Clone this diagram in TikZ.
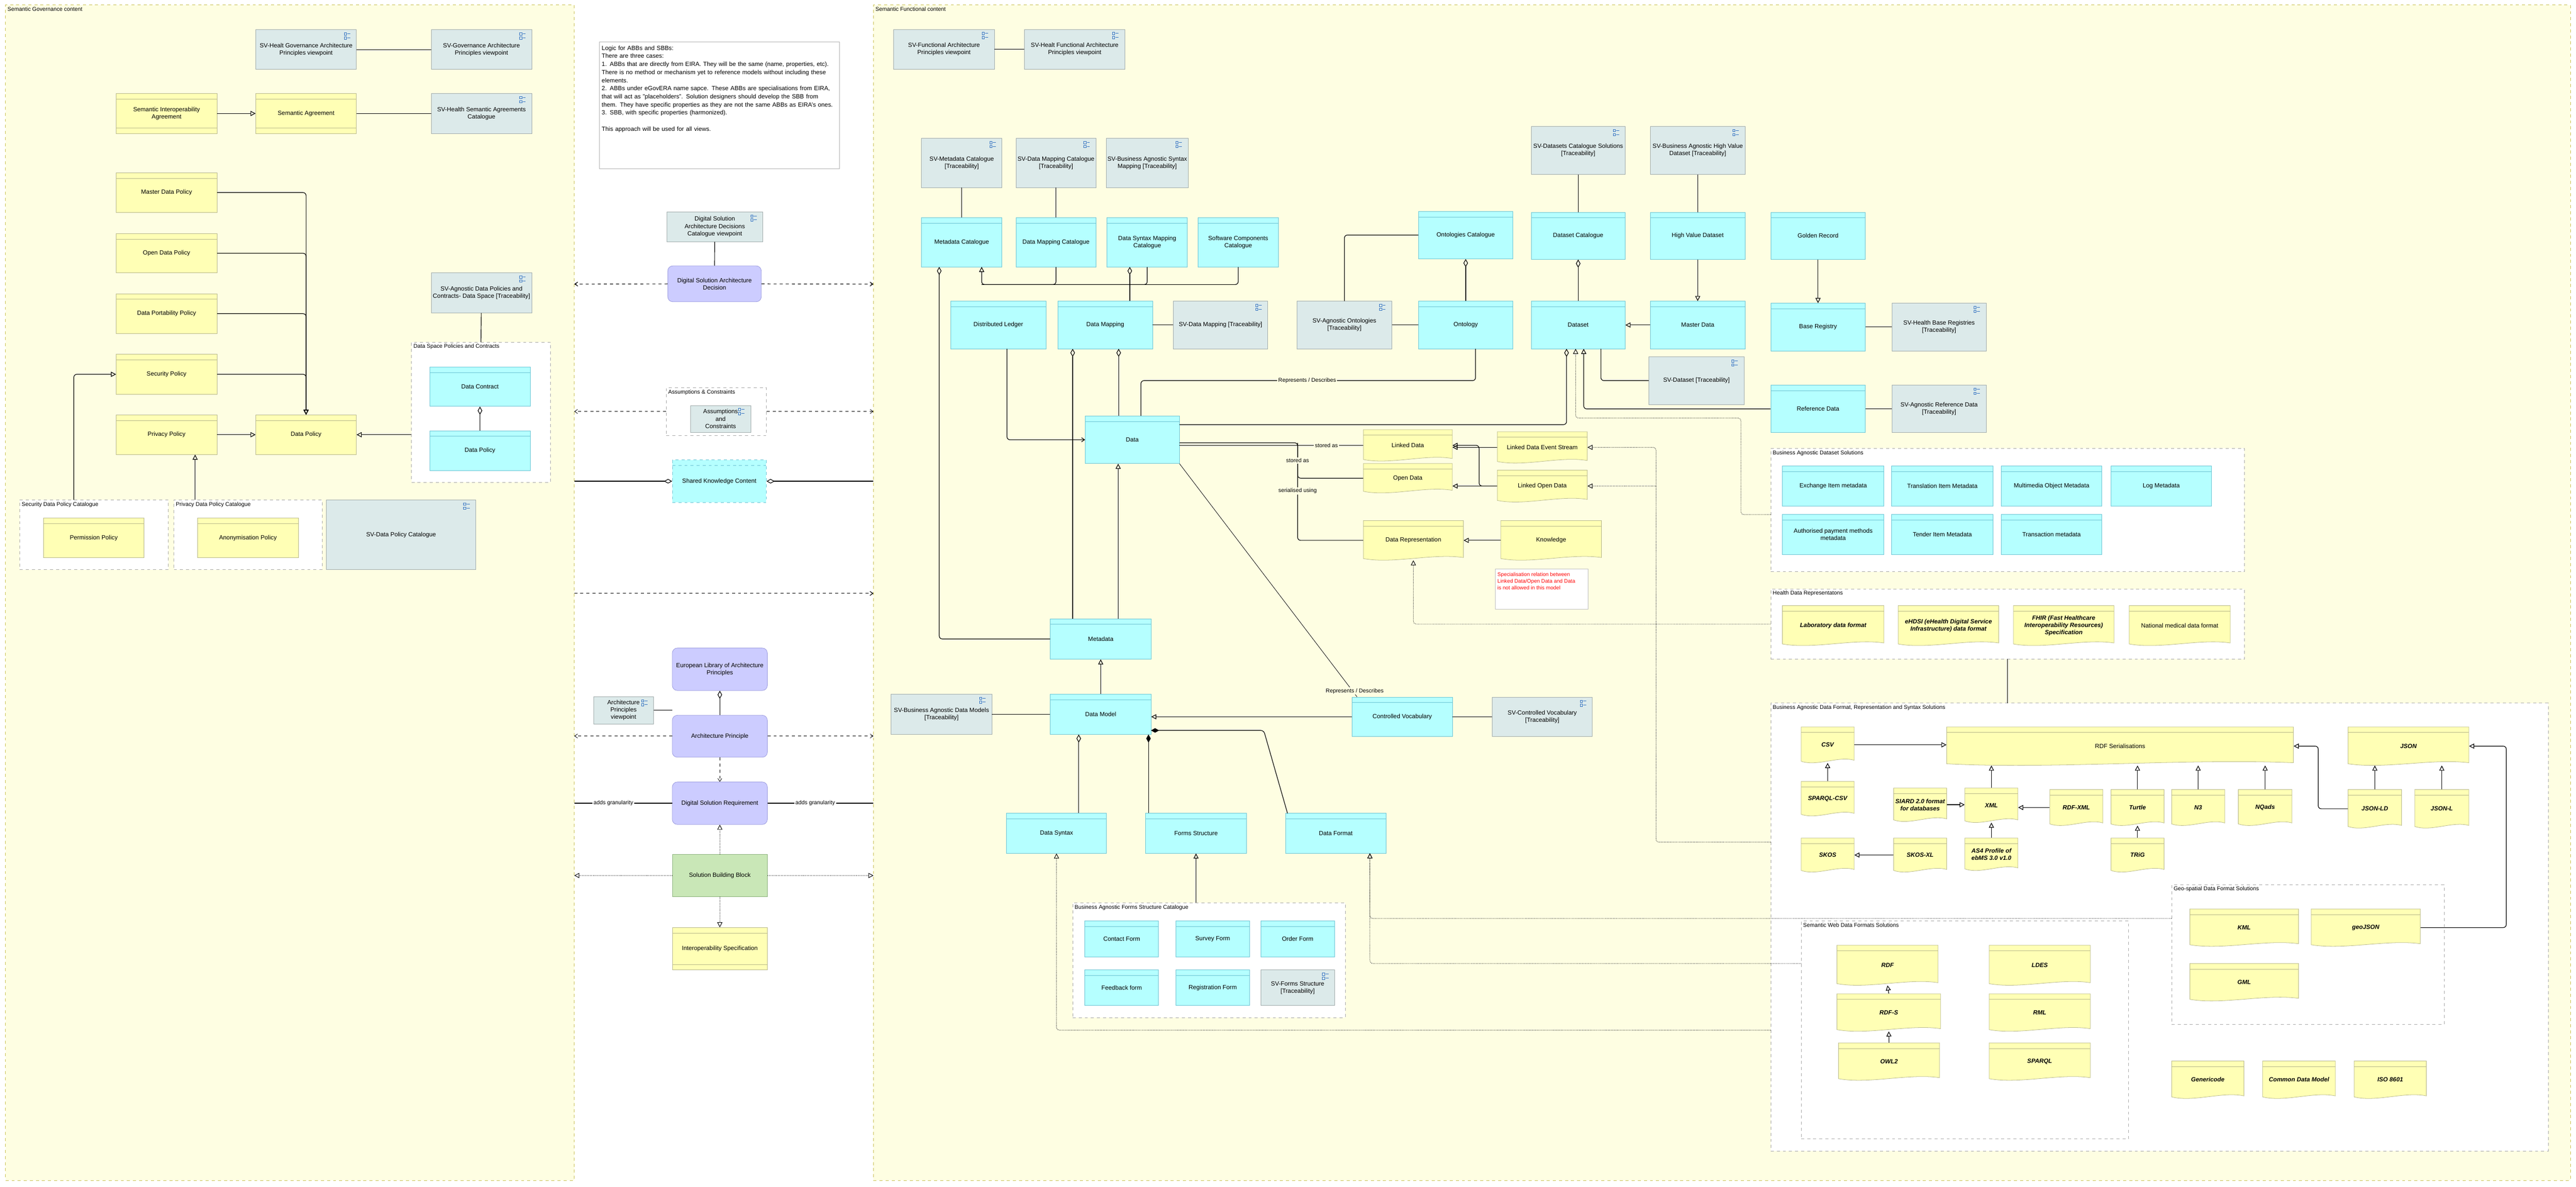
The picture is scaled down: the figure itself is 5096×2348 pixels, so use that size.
\documentclass[tikz,border=0pt]{standalone}
\usepackage{fontspec}
\setmainfont{Liberation Sans}
\usetikzlibrary{arrows.meta,calc,positioning}

\definecolor{conty}{HTML}{FEFEE2}
\definecolor{contd}{HTML}{C8C050}
\definecolor{appc}{HTML}{B5FFFF}
\definecolor{appd}{HTML}{6CC4D4}
\definecolor{bizc}{HTML}{FFFFB5}
\definecolor{bizd}{HTML}{B8B88A}
\definecolor{svc}{HTML}{DCEAEA}
\definecolor{svd}{HTML}{A0AAAA}
\definecolor{purc}{HTML}{CCCCFF}
\definecolor{purd}{HTML}{9999DD}
\definecolor{grnc}{HTML}{C9E7B7}
\definecolor{grnd}{HTML}{8AB07A}
\definecolor{icon}{HTML}{3070C0}

\tikzset{
  el/.style={inner sep=1pt, align=center, font=\fontsize{6}{7.2}\selectfont},
  sv/.style={el, draw=svd, fill=svc, path picture={
      \draw[icon,line width=0.4pt] ([xshift=-12pt,yshift=-3pt]path picture bounding box.north east) rectangle +(2.2pt,-2.2pt)
        ([xshift=-12pt,yshift=-7pt]path picture bounding box.north east) rectangle +(2.2pt,-2.2pt)
        ([xshift=-9pt,yshift=-4pt]path picture bounding box.north east) -- +(3pt,0)
        ([xshift=-9pt,yshift=-8pt]path picture bounding box.north east) -- +(3pt,0);}},
  app/.style={el, draw=appd, fill=appc, path picture={
      \draw[appd] ([yshift=-5.5pt]path picture bounding box.north west) -- ([yshift=-5.5pt]path picture bounding box.north east);}},
  biz/.style={el, draw=bizd, fill=bizc, path picture={
      \draw[bizd] ([yshift=-5.5pt]path picture bounding box.north west) -- ([yshift=-5.5pt]path picture bounding box.north east);}},
  ctr/.style={el, draw=bizd, fill=bizc, path picture={
      \draw[bizd] ([yshift=-5.5pt]path picture bounding box.north west) -- ([yshift=-5.5pt]path picture bounding box.north east)
        ([yshift=5.5pt]path picture bounding box.south west) -- ([yshift=5.5pt]path picture bounding box.south east);}},
  pur/.style={el, draw=purd, fill=purc, rounded corners=5pt},
  grn/.style={el, draw=grnd, fill=grnc},
  grp/.style={draw=gray!70, dashed, fill=white, inner sep=0pt},
  cont/.style={draw=contd, dashed, fill=conty, inner sep=0pt},
  gtitle/.style={inner sep=2pt, font=\fontsize{5.5}{6.6}\selectfont},
  rep/.style={el},
  repb/.style={el, font=\fontsize{6}{7.2}\selectfont\bfseries\itshape},
  repshape/.style={draw=bizd, fill=bizc},
  rel/.style={line width=0.6pt},
  spec/.style={rel, -{Triangle[open,length=5pt,width=5pt]}},
  agg/.style={rel, {Diamond[open,length=8pt,width=4.5pt]}-},
  comp/.style={rel, {Diamond[length=8pt,width=4.5pt]}-},
  realz/.style={line width=0.5pt, densely dotted, -{Triangle[open,length=5pt,width=5pt]}},
  infl/.style={rel, dashed, -{Straight Barb[length=3pt,width=4pt]}},
  flow/.style={rel, -{Straight Barb[length=3pt,width=4pt]}},
  lbl/.style={inner sep=1pt, font=\fontsize{5.5}{6.6}\selectfont},
}

% box from pixel corners
\newcommand\bx[7]{\node[#1, minimum width={(#5-#3)*0.5pt}, minimum height={(#6-#4)*0.5pt}] (#2) at ({(#3+#5)/2},{(#4+#6)/2}) {#7};}
% representation with wavy bottom
\newcommand\rp[7]{%
  \filldraw[repshape] (#3,#4) -- (#5,#4) -- (#5,#6-5) .. controls ({#3+0.7*(#5-#3)},#6-14) and ({#3+0.3*(#5-#3)},#6+8) .. (#3,#6-3) -- cycle;
  \draw[bizd] (#3,#4+11) -- (#5,#4+11);
  \bx{#1,draw=none,fill=none}{#2}{#3}{#4}{#5}{#6}{#7}}
% group with title
\newcommand\grp[7]{\bx{#1}{#2}{#3}{#4}{#5}{#6}{}
  \node[gtitle, anchor=north west] (#2t) at (#2.north west) {#7};}

\begin{document}
\begin{tikzpicture}[x=0.5pt,y=-0.5pt]
\useasboundingbox[fill=white] (0,0) rectangle (5096,2348);

% containers
\grp{cont}{govC}{11}{10}{1136}{2335}{Semantic Governance content}
\grp{cont}{funC}{1728}{10}{5085}{2335}{Semantic Functional content}

% Governance content
\bx{sv}{hgov}{506}{59}{705}{137}{SV-Healt Governance Architecture\\Principles viewpoint}
\bx{sv}{gov}{853}{59}{1052}{137}{SV-Governance Architecture\\Principles viewpoint}
\bx{ctr}{sia}{230}{185}{429}{264}{Semantic Interoperability\\Agreement}
\bx{ctr}{sag}{506}{185}{705}{264}{Semantic Agreement}
\bx{sv}{hsac}{853}{185}{1052}{264}{SV-Health Semantic Agreements\\Catalogue}
\bx{biz}{mdp}{230}{342}{429}{420}{Master Data Policy}
\bx{biz}{odp}{230}{462}{429}{540}{Open Data Policy}
\bx{biz}{dpp}{230}{581}{429}{660}{Data Portability Policy}
\bx{biz}{secp}{230}{701}{429}{780}{Security Policy}
\bx{biz}{prp}{230}{821}{429}{899}{Privacy Policy}
\bx{biz}{dpol}{506}{821}{705}{899}{Data Policy}
\bx{sv}{agdp}{853}{540}{1052}{619}{SV-Agnostic Data Policies and\\Contracts- Data Space [Traceability]}
\grp{grp}{dspc}{814}{677}{1089}{954}{Data Space Policies and Contracts}
\bx{app}{dcon}{850}{726}{1049}{804}{Data Contract}
\bx{app}{dpolc}{850}{852}{1049}{931}{Data Policy}
\grp{grp}{secdpc}{39}{989}{333}{1127}{Security Data Policy Catalogue}
\bx{biz}{perm}{86}{1025}{285}{1103}{Permission Policy}
\grp{grp}{prdpc}{344}{989}{637}{1127}{Privacy Data Policy Catalogue}
\bx{biz}{anon}{391}{1025}{590}{1103}{Anonymisation Policy}
\bx{sv}{svdpc}{646}{989}{941}{1127}{SV-Data Policy Catalogue}

% middle column
\node[draw=gray!60, fill=white, minimum width=237.5pt, minimum height=125.5pt, inner sep=0pt] (note) at (1423.5,208.5) {};
\node[anchor=north west, text width=230pt, align=left, inner sep=0pt, font=\fontsize{6}{8}\selectfont] (notet) at (1190,90) {Logic for ABBs and SBBs:\\There are three cases:\\1. ABBs that are directly from EIRA. They will be the same (name, properties, etc). There is no method or mechanism yet to reference models without including these elements.\\2. ABBs under eGovERA name sapce. These ABBs are specialisations from EIRA, that will act as "placeholders". Solution designers should develop the SBB from them. They have specific properties as they are not the same ABBs as EIRA's ones.\\3. SBB, with specific properties (harmonized).\\[8pt]This approach will be used for all views.};
\bx{sv}{dsadv}{1319}{419}{1509}{478}{Digital Solution\\Architecture Decisions\\Catalogue viewpoint}
\bx{pur}{dsad}{1321}{526}{1506}{597}{Digital Solution Architecture\\Decision}
\grp{grp}{asc}{1318}{767}{1516}{862}{Assumptions \& Constraints}
\bx{sv}{ascin}{1366}{802}{1485}{855}{Assumptions\hspace{8pt}\\and\\Constraints}
\bx{app,dashed}{skc}{1330}{910}{1516}{994}{Shared Knowledge Content}
\bx{pur}{elap}{1330}{1282}{1518}{1366}{European Library of Architecture\\Principles}
\bx{sv}{apv}{1174}{1378}{1293}{1432}{Architecture\hspace{8pt}\\Principles\\viewpoint}
\bx{pur}{ap}{1330}{1415}{1518}{1498}{Architecture Principle}
\bx{pur}{dsr}{1330}{1547}{1518}{1631}{Digital Solution Requirement}
\bx{grn}{sbb}{1330}{1690}{1518}{1774}{Solution Building Block}
\bx{ctr}{isp}{1330}{1835}{1518}{1919}{Interoperability Specification}

% Functional content
\bx{sv}{svfa}{1768}{58}{1967}{137}{SV-Functional Architecture\\Principles viewpoint}
\bx{sv}{svhfa}{2027}{58}{2225}{137}{SV-Healt Functional Architecture\\Principles viewpoint}
\bx{sv}{svmc}{1823}{274}{1982}{371}{SV-Metadata Catalogue\\{[Traceability]}}
\bx{sv}{svdmc}{2010}{274}{2168}{371}{SV-Data Mapping Catalogue\\{[Traceability]}}
\bx{sv}{svbasm}{2190}{274}{2349}{371}{SV-Business Agnostic Syntax\\Mapping [Traceability]}
\bx{app}{mcat}{1823}{431}{1982}{528}{Metadata Catalogue}
\bx{app}{dmcat}{2010}{431}{2168}{528}{Data Mapping Catalogue}
\bx{app}{dsmcat}{2190}{431}{2349}{528}{Data Syntax Mapping\\Catalogue}
\bx{app}{sccat}{2370}{431}{2529}{528}{Software Components\\Catalogue}
\bx{app}{dled}{1881}{596}{2069}{690}{Distributed Ledger}
\bx{app}{dmap}{2093}{596}{2280}{690}{Data Mapping}
\bx{sv}{svdm}{2321}{596}{2508}{690}{SV-Data Mapping [Traceability]}
\bx{sv}{svao}{2566}{596}{2753}{690}{SV-Agnostic Ontologies\\{[Traceability]}}
\bx{app}{onto}{2806}{596}{2993}{690}{Ontology}
\bx{app}{ocat}{2806}{418}{2993}{512}{Ontologies Catalogue}
\bx{sv}{svdcs}{3029}{250}{3215}{345}{SV-Datasets Catalogue Solutions\\{[Traceability]}}
\bx{sv}{svbahv}{3265}{250}{3452}{345}{SV-Business Agnostic High Value\\Dataset [Traceability]}
\bx{app}{dcat}{3029}{420}{3215}{513}{Dataset Catalogue}
\bx{app}{hvd}{3265}{420}{3452}{513}{High Value Dataset}
\bx{app}{dset}{3029}{596}{3215}{690}{Dataset}
\bx{app}{mdata}{3265}{596}{3452}{690}{Master Data}
\bx{sv}{svds}{3262}{706}{3450}{800}{SV-Dataset [Traceability]}
\bx{app}{grec}{3503}{420}{3690}{513}{Golden Record}
\bx{app}{breg}{3503}{600}{3690}{694}{Base Registry}
\bx{sv}{svhbr}{3743}{600}{3929}{694}{SV-Health Base Registries\\{[Traceability]}}
\bx{app}{rdata}{3503}{762}{3690}{856}{Reference Data}
\bx{sv}{svard}{3743}{762}{3929}{856}{SV-Agnostic Reference Data\\{[Traceability]}}
\bx{app}{data}{2147}{823}{2333}{917}{Data}
\rp{rep}{ldata}{2697}{850}{2873}{912}{Linked Data}
\rp{rep}{odata}{2697}{917}{2873}{975}{Open Data}
\rp{rep}{ldes}{2962}{854}{3140}{916}{Linked Data Event Stream}
\rp{rep}{lod}{2962}{930}{3140}{993}{Linked Open Data}
\rp{rep}{drep}{2697}{1030}{2895}{1108}{Data Representation}
\rp{rep}{know}{2969}{1030}{3168}{1108}{Knowledge}
\node[draw=gray!50, fill=white, minimum width=92pt, minimum height=39.5pt, inner sep=0pt] (redn) at (3050,1165.5) {};
\node[anchor=north west, align=left, text=red, inner sep=0pt, font=\fontsize{5.2}{6.6}\selectfont] (rednt) at (2962,1132) {Specialisation relation between\\Linked Data/Open Data and Data\\is not allowed in this model};
\bx{app}{meta}{2078}{1224}{2277}{1304}{Metadata}
\bx{app}{dmod}{2078}{1373}{2277}{1453}{Data Model}
\bx{sv}{svbadm}{1763}{1373}{1962}{1453}{SV-Business Agnostic Data Models\\{[Traceability]}}
\bx{app}{cvoc}{2675}{1379}{2873}{1457}{Controlled Vocabulary}
\bx{sv}{svcv}{2952}{1379}{3150}{1457}{SV-Controlled Vocabulary\\{[Traceability]}}
\bx{app}{dsyn}{1991}{1609}{2189}{1688}{Data Syntax}
\bx{app}{fstr}{2266}{1609}{2466}{1688}{Forms Structure}
\bx{app}{dfmt}{2543}{1609}{2742}{1688}{Data Format}
\grp{grp}{fcat}{2122}{1786}{2661}{2013}{Business Agnostic Forms Structure Catalogue}
\bx{app}{cform}{2146}{1822}{2292}{1893}{Contact Form}
\bx{app}{sform}{2326}{1822}{2472}{1893}{Survey Form}
\bx{app}{oform}{2494}{1822}{2640}{1893}{Order Form}
\bx{app}{fform}{2146}{1919}{2292}{1989}{Feedback form}
\bx{app}{rform}{2326}{1919}{2472}{1989}{Registration Form}
\bx{sv}{svfs}{2494}{1919}{2640}{1989}{SV-Forms Structure\\{[Traceability]}}

% Business Agnostic Dataset Solutions
\grp{grp}{bads}{3503}{887}{4440}{1131}{Business Agnostic Dataset Solutions}
\bx{app}{eim}{3526}{922}{3727}{1001}{Exchange Item metadata}
\bx{app}{tim}{3742}{922}{3943}{1001}{Translation Item Metadata}
\bx{app}{mom}{3959}{922}{4158}{1001}{Multimedia Object Metadata}
\bx{app}{lmeta}{4176}{922}{4375}{1001}{Log Metadata}
\bx{app}{apm}{3526}{1018}{3727}{1097}{Authorised payment methods\\metadata}
\bx{app}{tenm}{3742}{1018}{3943}{1097}{Tender Item Metadata}
\bx{app}{trm}{3959}{1018}{4158}{1097}{Transaction metadata}

% Health Data Representations
\grp{grp}{hdr}{3503}{1165}{4440}{1304}{Health Data Representatons}
\rp{repb}{lab}{3526}{1198}{3727}{1277}{Laboratory data format}
\rp{repb}{ehdsi}{3755}{1198}{3954}{1277}{eHDSI (eHealth Digital Service\\Infrastructure) data format}
\rp{repb}{fhir}{3983}{1198}{4182}{1277}{FHIR (Fast Healthcare\\Interoperability Resources)\\Specification}
\rp{rep}{nmdf}{4212}{1198}{4412}{1277}{National medical data format}

% Data Format, Representation and Syntax Solutions
\grp{grp}{bafr}{3503}{1391}{5041}{2277}{Business Agnostic Data Format, Representation and Syntax Solutions}
\rp{repb}{csv}{3563}{1438}{3668}{1509}{CSV}
\rp{rep}{rdfs}{3851}{1438}{4537}{1514}{RDF Serialisations}
\rp{repb}{json}{4645}{1438}{4884}{1514}{JSON}
\rp{repb}{spcsv}{3563}{1546}{3668}{1614}{SPARQL-CSV}
\rp{repb}{siard}{3746}{1559}{3851}{1625}{SIARD 2.0 format\\for databases}
\rp{repb}{xml}{3887}{1559}{3992}{1627}{XML}
\rp{repb}{rdfxml}{4055}{1562}{4160}{1633}{RDF-XML}
\rp{repb}{turtle}{4176}{1562}{4281}{1633}{Turtle}
\rp{repb}{nthree}{4296}{1562}{4401}{1633}{N3}
\rp{repb}{nqads}{4428}{1562}{4534}{1633}{NQads}
\rp{repb}{jsonld}{4645}{1562}{4751}{1638}{JSON-LD}
\rp{repb}{jsonl}{4777}{1562}{4884}{1638}{JSON-L}
\rp{repb}{skos}{3563}{1658}{3668}{1725}{SKOS}
\rp{repb}{skosxl}{3746}{1658}{3851}{1725}{SKOS-XL}
\rp{repb}{asfour}{3887}{1658}{3992}{1722}{AS4 Profile of\\ebMS 3.0 v1.0}
\rp{repb}{trig}{4176}{1658}{4281}{1725}{TRiG}
\grp{grp}{geo}{4296}{1750}{4835}{2027}{Geo-spatial Data Format Solutions}
\rp{repb}{kml}{4332}{1798}{4547}{1872}{KML}
\rp{repb}{geojson}{4572}{1798}{4788}{1872}{geoJSON}
\rp{repb}{gml}{4332}{1906}{4547}{1980}{GML}
\grp{grp}{swf}{3563}{1822}{4211}{2253}{Semantic Web Data Formats Solutions}
\rp{repb}{rdf}{3634}{1870}{3834}{1949}{RDF}
\rp{repb}{rdfsch}{3634}{1966}{3839}{2040}{RDF-S}
\rp{repb}{owltwo}{3637}{2063}{3837}{2137}{OWL2}
\rp{repb}{ldesf}{3935}{1870}{4135}{1949}{LDES}
\rp{repb}{rml}{3935}{1966}{4135}{2040}{RML}
\rp{repb}{sparql}{3935}{2063}{4135}{2137}{SPARQL}
\rp{repb}{gcode}{4296}{2099}{4439}{2173}{Genericode}
\rp{repb}{cdm}{4476}{2099}{4620}{2173}{Common Data Model}
\rp{repb}{iso}{4657}{2099}{4800}{2173}{ISO 8601}

% helper coordinates
\coordinate (gL1) at (1136,562);   \coordinate (fL1) at (1728,562);
\coordinate (gL2) at (1136,814);   \coordinate (fL2) at (1728,814);
\coordinate (gL3) at (1136,952);   \coordinate (fL3) at (1728,952);
\coordinate (gL4) at (1136,1174);  \coordinate (fL4) at (1728,1174);
\coordinate (gL5) at (1136,1456);  \coordinate (fL5) at (1728,1456);
\coordinate (gL6) at (1136,1589);  \coordinate (fL6) at (1728,1589);
\coordinate (gL7) at (1136,1732);  \coordinate (fL7) at (1728,1732);
\coordinate (sec1) at (146,989);
\coordinate (pr1) at (386,989);
\coordinate (mb1) at (1942,563);   \coordinate (mb2) at (1942,528);
\coordinate (dsd) at (2235,528);
\coordinate (dmd1) at (2122,690);  \coordinate (dmd2) at (2213,690);
\coordinate (mcd) at (1858,528);
\coordinate (md1) at (2212,1224);
\coordinate (dl1) at (1992,690);
\coordinate (ontoS) at (2919,690); \coordinate (rd1) at (2257,753);
\coordinate (dsd1) at (3099,690);  \coordinate (dsd2) at (3167,690);
\coordinate (dsd3) at (3133,690);  \coordinate (dsd4) at (3117,690);
\coordinate (bads1) at (3503,1018); \coordinate (bd1) at (3444,827);
\coordinate (sb) at (2567,876);
\coordinate (lx) at (2926,0);
\coordinate (vx) at (3276,0);      \coordinate (bafr1) at (3503,1666);
\coordinate (hd1) at (3971,1304);  \coordinate (hd2) at (3971,1391);
\coordinate (dm1) at (2134,1453);  \coordinate (dm2) at (2272,1453);
\coordinate (dm3) at (2277,1445);  \coordinate (dm4) at (2500,1445);
\coordinate (df1) at (2547,1609);
\coordinate (bafr2) at (3503,2038);
\coordinate (dfx) at (2710,1688);
\coordinate (geo1) at (4296,1817); \coordinate (swf1) at (3563,1906);
\coordinate (jx) at (4586,0);      \coordinate (gx) at (4958,0);

% Connections, governance
\draw[rel] (hgov) -- (gov);
\draw[spec] (sia) -- (sag);
\draw[rel] (sag) -- (hsac);
\draw[spec, rounded corners=3pt] (mdp.east) -| (dpol.north);
\draw[spec, rounded corners=3pt] (odp.east) -| (dpol.north);
\draw[spec, rounded corners=3pt] (dpp.east) -| (dpol.north);
\draw[spec, rounded corners=3pt] (secp.east) -| (dpol.north);
\draw[spec, rounded corners=3pt] (sec1) |- (secp.west);
\draw[spec] (pr1) -- (pr1 |- prp.south);
\draw[spec] (prp) -- (dpol);
\draw[spec] (dspc.west |- dpol.east) -- (dpol.east);
\draw[rel] (agdp) -- (dspc.north);
\draw[agg] (dcon) -- (dpolc);

% Connections, middle
\draw[rel] (dsadv) -- (dsad);
\draw[infl] (dsad) -- (gL1);
\draw[infl] (dsad) -- (fL1);
\draw[infl, line width=0.4pt] (asc.west |- gL2) -- (gL2);
\draw[infl, line width=0.4pt] (asc.east |- fL2) -- (fL2);
\draw[agg] (skc.west) -- (gL3);
\draw[agg] (skc.east) -- (fL3);
\draw[infl] (gL4) -- (fL4);
\draw[agg] (elap) -- (ap);
\draw[rel] (apv.east) -- (apv.east -| ap.west);
\draw[infl, line width=0.4pt] (ap.west |- gL5) -- (gL5);
\draw[infl, line width=0.4pt] (ap.east |- fL5) -- (fL5);
\draw[infl, line width=0.4pt] (ap) -- (dsr);
\draw[rel] (dsr.west |- gL6) -- (gL6) node[lbl, pos=0.6, fill=white] {adds granularity};
\draw[rel] (dsr.east |- fL6) -- (fL6) node[lbl, pos=0.45, fill=white] {adds granularity};
\draw[realz] (sbb) -- (dsr);
\draw[realz] (sbb) -- (isp);
\draw[realz] (sbb.west |- gL7) -- (gL7);
\draw[realz] (sbb.east |- fL7) -- (fL7);

% Connections, functional
\draw[rel] (svfa) -- (svhfa);
\draw[rel] (svmc) -- (mcat);
\draw[rel] (svdmc) -- (dmcat);
\draw[spec, rounded corners=3pt] (sccat.south) |- (mb1) -- (mb2);
\draw[rel, rounded corners=3pt] (dmcat.south) |- (mb1);
\draw[rel, rounded corners=3pt] (dsmcat.south) |- (mb1);
\draw[agg] (dsd) -- (dsd |- dmap.north);
\draw[rel] (dmap) -- (svdm);
\draw[agg] (dmd1) -- (dmd1 |- meta.north);
\draw[agg] (dmd2) -- (dmd2 |- data.north);
\draw[agg, rounded corners=3pt] (mcd) |- (meta.west);
\draw[spec] (md1) -- (md1 |- data.south);
\draw[flow, rounded corners=3pt] (dl1) |- (data.west);
\draw[rel, rounded corners=3pt] (ocat.west) -| (svao.north);
\draw[agg] (ocat) -- (onto);
\draw[rel] (svao) -- (onto);
\draw[rel, rounded corners=3pt] (ontoS) |- (rd1) -- (rd1 |- data.north);
\node[lbl, fill=conty] (rdlbl) at (2586,753) {Represents / Describes};
\draw[rel] (svdcs) -- (dcat);
\draw[agg] (dcat) -- (dset);
\draw[rel] (svbahv) -- (hvd);
\draw[spec] (hvd) -- (mdata);
\draw[spec] (mdata) -- (dset);
\draw[agg, rounded corners=3pt] (dsd1) |- (data.east |- 0,840);
\draw[rel, rounded corners=3pt] (dsd2) |- (svds.west);
\draw[spec, rounded corners=3pt] (rdata.west) -| (dsd3);
\draw[realz, rounded corners=3pt] (bads1) -| (bd1) -| (dsd4);
\draw[spec] (grec) -- (breg);
\draw[rel] (breg) -- (svhbr);
\draw[rel] (rdata) -- (svard);
\draw[rel] (ldata.west -| data.east) -- (ldata.west) node[lbl, pos=0.8, fill=conty] {stored as};
\draw[rel, rounded corners=3pt] (data.east |- sb) -- (sb) |- (odata.west);
\draw[rel, rounded corners=3pt] (sb) |- (drep.west);
\node[lbl, fill=conty] (salbl) at (2567,911) {stored as};
\node[lbl, fill=conty] (sulbl) at (2567,971) {serialised using};
\draw[spec] (ldes.west) -- (ldes.west -| ldata.east);
\draw[spec] (lod.west) -- (lod.west -| odata.east);
\draw[spec, rounded corners=3pt] (lod.west) -| (lx |- ldata.east) -- (ldata.east);
\draw[spec] (know) -- (drep);
\draw[realz, rounded corners=3pt] (bafr1) -| (vx |- ldes.east) -- (ldes.east);
\draw[realz, rounded corners=3pt] (vx |- lod.east) -- (lod.east);
\draw[realz, rounded corners=3pt] (hdr.west) -| (drep.south);
\draw[rel] (hd1) -- (hd2);
\draw[line width=0.4pt] (data.south east) -- ($(cvoc.north west)+(10,0)$);
\node[lbl, fill=conty] (rdlbl2) at (2680,1367) {Represents / Describes};
\draw[rel] (cvoc) -- (svcv);
\draw[spec] (cvoc.west) -- (cvoc.west -| dmod.east);
\draw[spec] (dmod) -- (meta);
\draw[rel] (svbadm) -- (dmod);
\draw[agg] (dm1) -- (dm1 |- dsyn.north);
\draw[comp] (dm2) -- (dm2 |- fstr.north);
\draw[comp, rounded corners=3pt] (dm3) -- (dm4) -- (df1);
\draw[spec] (fstr.south |- fcat.north) -- (fstr.south);
\draw[realz, rounded corners=3pt] (bafr2) -| (dsyn.south);
\draw[realz, rounded corners=3pt] (geo1) -| (dfx);
\draw[realz, rounded corners=3pt] (swf1) -| (dfx);

% Connections, data formats
\draw[spec] (csv.east) -- (csv.east -| rdfs.west);
\draw[spec] (spcsv.north) -- (csv.south);
\draw[spec] (siard.east) -- (siard.east -| xml.west);
\draw[spec] (rdfxml.west) -- (rdfxml.west -| xml.east);
\draw[spec] (asfour.north) -- (xml.south);
\draw[spec] (xml.north) -- (xml.north |- rdfs.south);
\draw[spec] (turtle.north) -- (turtle.north |- rdfs.south);
\draw[spec] (nthree.north) -- (nthree.north |- rdfs.south);
\draw[spec] (nqads.north) -- (nqads.north |- rdfs.south);
\draw[spec] (trig.north) -- (turtle.south);
\draw[spec] (skosxl.west) -- (skosxl.west -| skos.east);
\draw[spec] (jsonld.north) -- (jsonld.north |- json.south);
\draw[spec] (jsonl.north) -- (jsonl.north |- json.south);
\draw[spec, rounded corners=3pt] (jsonld.west) -| (jx |- rdfs.east) -- (rdfs.east);
\draw[spec, rounded corners=3pt] (geojson.east) -| (gx |- json.east) -- (json.east);
\draw[spec] (rdfsch.north) -- (rdf.south);
\draw[spec] (owltwo.north) -- (rdfsch.south);

\end{tikzpicture}
\end{document}
